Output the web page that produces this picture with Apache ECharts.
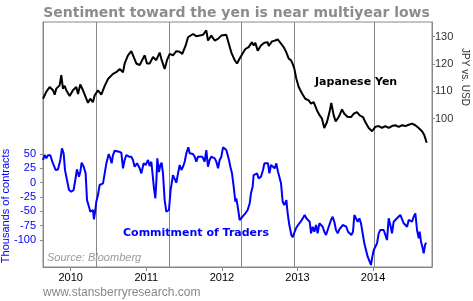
<!DOCTYPE html>
<html>
<head>
<meta charset="utf-8">
<script src="https://cdn.jsdelivr.net/npm/echarts@6/dist/echarts.min.js"></script>
<style>html,body{margin:0;padding:0;background:#fff}#c{width:473px;height:301px}</style>
</head>
<body>
<div id="c"></div>
<script>
// Dates as decimal years
const yenDates = [2009.634,2009.677,2009.722,2009.766,2009.788,2009.810,2009.854,2009.876,2009.898,2009.921,2009.942,2009.987,
2010.030,2010.074,2010.097,2010.127,2010.163,2010.185,2010.229,2010.259,2010.295,2010.317,2010.361,2010.405,2010.450,2010.493,2010.516,2010.560,2010.603,2010.648,2010.692,2010.714,2010.758,2010.802,2010.833,2010.868,2010.913,2010.934,2010.979,
2011.009,2011.045,2011.089,2011.132,2011.177,2011.198,2011.243,2011.274,2011.310,2011.353,2011.397,2011.442,2011.476,2011.521,2011.552,2011.574,2011.618,2011.661,2011.706,2011.750,2011.794,2011.816,2011.860,2011.905,2011.948,2011.992,
2012.058,2012.081,2012.124,2012.169,2012.200,2012.235,2012.270,2012.310,2012.354,2012.398,2012.421,2012.442,2012.474,2012.517,2012.561,2012.606,2012.619,2012.663,2012.706,2012.738,2012.772,2012.817,2012.852,2012.884,2012.914,2012.940,2012.958,2012.984,
2013.016,2013.060,2013.103,2013.148,2013.179,2013.214,2013.258,2013.294,2013.324,2013.354,2013.390,2013.426,2013.447,2013.479,2013.505,2013.545,2013.589,2013.619,2013.664,2013.708,2013.743,2013.787,2013.823,2013.866,2013.897,2013.942,2013.986,
2014.029,2014.074,2014.118,2014.161,2014.206,2014.250,2014.294,2014.339,2014.382,2014.426,2014.471,2014.515,2014.558,2014.603,2014.647,2014.677,2014.709];
const yenValues = [107.3,109.8,111.6,110.4,108.8,111.0,112.2,115.9,111.0,112.0,110.4,108.3,
110.4,111.6,109.0,112.5,110.4,109.7,105.8,107.3,106.1,108.5,110.4,108.8,112.0,114.5,114.0,116.4,117.0,118.2,117.0,120.2,123.2,124.7,122.6,120.2,119.6,120.8,123.2,
120.2,120.2,122.6,121.4,124.2,122.0,118.2,121.4,123.7,123.2,124.7,124.5,123.7,126.8,129.8,129.2,131.0,130.2,130.4,130.7,132.3,128.6,130.4,128.6,129.2,130.4,
130.7,130.4,124.3,121.4,120.2,122.0,123.7,125.5,126.2,128.0,126.8,127.8,124.9,126.8,127.8,128.0,126.6,128.3,128.6,129.0,127.8,126.2,124.3,122.0,121.4,119.8,118.3,114.7,
111.6,109.2,107.3,106.7,105.5,106.1,103.0,101.2,100.0,96.6,98.8,102.7,105.8,101.2,99.0,100.6,103.4,101.8,100.6,100.6,101.8,102.4,101.2,100.6,98.8,96.6,95.4,
97.0,97.3,96.6,97.3,96.6,97.3,97.6,97.0,97.6,97.3,97.8,98.2,97.6,96.6,95.4,94.0,91.2];

const cotDates = [2009.634,2009.656,2009.678,2009.700,2009.731,2009.757,2009.779,2009.801,2009.832,2009.863,2009.885,2009.907,2009.925,2009.951,2009.978,
2010.008,2010.039,2010.061,2010.083,2010.110,2010.127,2010.145,2010.172,2010.198,2010.216,2010.242,2010.260,2010.282,2010.295,2010.308,2010.326,2010.339,2010.361,2010.383,2010.406,2010.428,2010.450,2010.472,2010.503,2010.525,2010.542,2010.560,2010.582,2010.604,2010.639,2010.670,2010.692,2010.714,2010.736,2010.772,2010.802,2010.824,2010.846,2010.877,2010.913,2010.935,2010.965,2010.992,
2011.023,2011.045,2011.067,2011.089,2011.102,2011.120,2011.133,2011.146,2011.168,2011.186,2011.203,2011.221,2011.243,2011.265,2011.287,2011.300,2011.322,2011.353,2011.375,2011.397,2011.420,2011.442,2011.464,2011.486,2011.508,2011.530,2011.556,2011.574,2011.596,2011.618,2011.640,2011.662,2011.684,2011.706,2011.741,2011.772,2011.794,2011.816,2011.838,2011.860,2011.882,2011.905,2011.927,2011.949,2011.971,2011.993,
2012.015,2012.037,2012.059,2012.072,2012.094,2012.112,2012.134,2012.156,2012.178,2012.191,2012.213,2012.235,2012.257,2012.279,2012.310,2012.341,2012.368,2012.385,2012.407,2012.420,2012.443,2012.465,2012.487,2012.517,2012.544,2012.562,2012.588,2012.610,2012.628,2012.650,2012.676,2012.698,2012.720,2012.742,2012.764,2012.782,2012.804,2012.826,2012.853,2012.870,2012.892,2012.919,2012.936,2012.958,2012.980,
2013.007,2013.029,2013.051,2013.073,2013.095,2013.117,2013.139,2013.161,2013.179,2013.201,2013.223,2013.245,2013.267,2013.289,2013.311,2013.333,2013.355,2013.377,2013.399,2013.421,2013.443,2013.465,2013.487,2013.509,2013.532,2013.554,2013.576,2013.598,2013.620,2013.646,2013.668,2013.690,2013.712,2013.734,2013.752,2013.774,2013.796,2013.818,2013.840,2013.862,2013.884,2013.906,2013.928,2013.950,2013.972,2013.986,
2014.008,2014.030,2014.052,2014.074,2014.096,2014.118,2014.140,2014.162,2014.184,2014.206,2014.228,2014.250,2014.272,2014.294,2014.316,2014.338,2014.360,2014.382,2014.405,2014.427,2014.449,2014.471,2014.493,2014.515,2014.537,2014.559,2014.581,2014.603,2014.616,2014.634,2014.656,2014.669,2014.687,2014.700];
const cotValues = [39.6,48.3,42.5,48,48,36.6,33.8,22.2,23,39.6,60,51.3,22,4.7,-12.7,
-15.7,-12.7,4.7,23.3,10.5,18.6,34.9,27.9,16.3,-30.2,-41.9,-50.6,-47.6,-47.6,-63.9,-47.6,-33.1,-21.5,-4,-7,-1.1,16.3,33.8,50,42.5,33.8,48.3,55.8,54.1,54.1,52.3,25.1,39.6,48.3,45.4,45.4,39.6,27.9,33.8,25.1,16.3,33.8,30.9,
39.6,29.1,36.6,39.6,-9.8,-27.2,1.7,42.5,18.6,30.9,34.9,16.3,-30.2,-50.6,-53.4,-47.6,-12.7,13.4,16.3,0,16.3,30.9,22.2,27.9,36.6,51.3,61.7,51.3,48.3,50,45.4,36.6,45.4,48.3,45.4,36.6,57,27.9,39.6,45.4,42.5,42.5,36.6,25.1,39.6,45.4,
61.7,62.8,57,60,39.6,27.9,16.3,-7,-33.1,-27.2,-44.7,-65,-62.2,-58.2,-53.4,-47.6,-35.9,-18.5,-7,13.4,15.2,16.3,7.6,10.5,22.2,33.8,30.9,33.8,16.3,30.9,33.8,25.1,33.8,19.2,17.4,-1.1,-33.1,-38.9,-30.2,-53.4,-73.8,-91.2,-95.2,-87.2,-79.5,
-73.8,-70.8,-66.3,-65,-56.3,-62.1,-65,-68,-88.3,-76.7,-85.5,-73.8,-88.3,-70.8,-68,-76.7,-85.5,-91.2,-82.5,-73.8,-65,-59.3,-68,-82.5,-88.3,-81.3,-79.5,-73.8,-70.8,-76.7,-85.5,-88.3,-91.2,-85.5,-56.3,-59.3,-68,-62.1,-70.8,-88.3,-105.7,-117.4,-129,-131.9,-143.5,-131.9,
-117.4,-111.6,-105.7,-88.3,-82.5,-79.5,-82.5,-81.3,-100,-62.1,-73.8,-88.3,-68,-68,-62.1,-65,-56.3,-53.4,-70.8,-68,-76.7,-65,-62.1,-68,-59.3,-53.4,-82.5,-97,-85.5,-102.9,-114.4,-123.1,-108.7,-104.6];

const eventDates = [2010.341, 2011.300, 2012.253, 2012.958, 2014.005];
const yearTicks = [2010, 2011, 2012, 2013, 2014];
const jpyTicks = [100, 110, 120, 130];
const cotTicks = [-100, -75, -50, -25, 0, 25, 50];

const zip = (a, b) => a.map((d, i) => [d, b[i]]);

const chart = echarts.init(document.getElementById('c'));
const gray = '#888';
chart.setOption({
  animation: false,
  backgroundColor: '#fff',
  title: {
    text: 'Sentiment toward the yen is near multiyear lows',
    left: 'center', top: 1,
    textStyle: { fontFamily: 'DejaVu Sans', fontWeight: 'bold', fontSize: 14, color: '#8c8c8c' }
  },
  grid: { left: 43, right: 41, top: 22, bottom: 34, show: true, borderColor: gray, borderWidth: 1 },
  xAxis: {
    type: 'value', min: 2009.634, max: 2014.779,
    axisLine: { show: true, onZero: false, lineStyle: { color: gray } },
    axisTick: { show: true, customValues: yearTicks, length: 4, lineStyle: { color: gray } },
    axisLabel: { customValues: yearTicks, formatter: v => String(Math.round(v)), color: '#000', fontSize: 11, fontFamily: 'Liberation Sans', margin: 5 },
    splitLine: { show: false }
  },
  yAxis: [
    {
      type: 'value', position: 'left', min: -147, max: 280.3,
      axisLine: { show: true, onZero: false, lineStyle: { color: gray } },
      axisTick: { show: true, customValues: cotTicks, length: 3, lineStyle: { color: gray } },
      axisLabel: { customValues: cotTicks, color: '#0000ff', fontSize: 11, fontFamily: 'Liberation Sans', margin: 7 },
      splitLine: { show: false }
    },
    {
      type: 'value', position: 'right', min: 45.73, max: 135.38,
      axisLine: { show: true, onZero: false, lineStyle: { color: gray } },
      axisTick: { show: true, customValues: jpyTicks, length: 3, lineStyle: { color: gray } },
      axisLabel: { customValues: jpyTicks, color: '#333', fontSize: 11, fontFamily: 'Liberation Sans', margin: 3 },
      splitLine: { show: false }
    }
  ],
  series: [
    {
      name: 'Japanese Yen', type: 'line', yAxisIndex: 1, data: zip(yenDates, yenValues),
      symbol: 'none', lineStyle: { color: '#000', width: 2 }, z: 3,
      markLine: {
        silent: true, symbol: 'none', label: { show: false }, z: 1,
        lineStyle: { color: gray, width: 1, type: 'solid' },
        data: eventDates.map(d => ({ xAxis: d }))
      }
    },
    {
      name: 'Commitment of Traders', type: 'line', yAxisIndex: 0, data: zip(cotDates, cotValues),
      symbol: 'none', lineStyle: { color: '#0000ff', width: 2 }, z: 3
    }
  ],
  graphic: [
    { type: 'text', x: 6, y: 206, rotation: Math.PI / 2,
      style: { text: 'Thousands of contracts', fill: '#0000ff', font: '11px "Liberation Sans"', textAlign: 'center', textVerticalAlign: 'middle' } },
    { type: 'text', x: 465, y: 77, rotation: -Math.PI / 2,
      style: { text: 'JPY vs. USD', fill: '#333', font: '10px "Liberation Sans"', textAlign: 'center', textVerticalAlign: 'middle' } },
    { type: 'text', x: 315, y: 82, z: 10,
      style: { text: 'Japanese Yen', fill: '#000', font: 'bold 11px "DejaVu Sans"', textAlign: 'left', textVerticalAlign: 'middle' } },
    { type: 'text', x: 123, y: 233, z: 10,
      style: { text: 'Commitment of Traders', fill: '#0000ff', font: 'bold 11px "DejaVu Sans"', textAlign: 'left', textVerticalAlign: 'middle' } },
    { type: 'text', x: 47, y: 258, z: 10,
      style: { text: 'Source: Bloomberg', fill: '#999', font: 'italic 11px "Liberation Sans"', textAlign: 'left', textVerticalAlign: 'middle' } },
    { type: 'text', x: 43, y: 293,
      style: { text: 'www.stansberryresearch.com', fill: '#888', font: '12px "Liberation Sans"', textAlign: 'left', textVerticalAlign: 'middle' } }
  ]
});
</script>
</body>
</html>
